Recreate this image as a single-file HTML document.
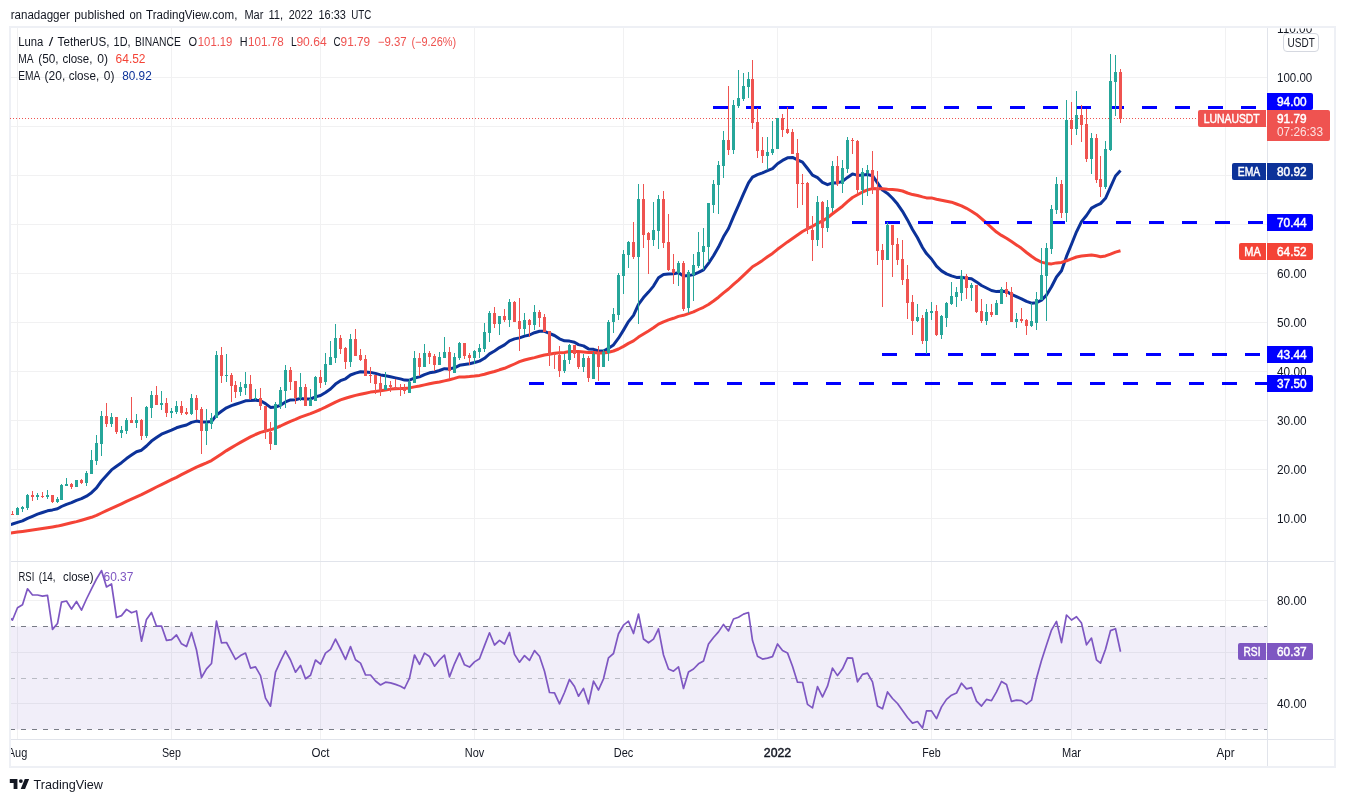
<!DOCTYPE html>
<html lang="en"><head><meta charset="utf-8"><title>LUNAUSDT chart</title>
<style>html,body{margin:0;padding:0;background:#fff;}body{width:1345px;height:802px;overflow:hidden;font-family:"Liberation Sans", Arial, sans-serif;}svg{display:block}</style>
</head><body>
<svg width="1345" height="802" viewBox="0 0 1345 802" font-family='"Liberation Sans", Arial, sans-serif'><rect x="0" y="0" width="1345" height="802" fill="#fff"/>
<rect x="10" y="27" width="1325" height="740" fill="#fff" stroke="#eef0f5" stroke-width="2"/>
<rect x="11" y="626.5" width="1256" height="103" fill="#f1eef9"/>
<path d="M11 77.5H1267M11 126.5H1267M11 175.5H1267M11 224.5H1267M11 273.5H1267M11 322.5H1267M11 371.5H1267M11 420.5H1267M11 469.5H1267M11 518.5H1267M11 600.5H1267M11 652.5H1267M11 703.5H1267M17.5 28V739M171.5 28V739M320.5 28V739M474.5 28V739M623.5 28V739M777.5 28V739M931.5 28V739M1071.5 28V739M1225.5 28V739" stroke="#2a2e39" stroke-opacity="0.065" stroke-width="1" fill="none" shape-rendering="crispEdges"/>
<path d="M1267.5 28V766M11 561.5H1334M11 739.5H1334" stroke="#e1e4eb" stroke-width="1" fill="none" shape-rendering="crispEdges"/>
<path d="M11 626.5H1267M11 729.5H1267" stroke="#787b86" stroke-width="1" stroke-dasharray="5 6" stroke-dashoffset="1" fill="none" shape-rendering="crispEdges"/>
<path d="M11 678.5H1267" stroke="#b9bbc4" stroke-width="1" stroke-dasharray="5 6" stroke-dashoffset="1" fill="none" shape-rendering="crispEdges"/>
<path d="M10 118.5H1198" stroke="#ef5350" stroke-width="1" stroke-dasharray="1 2" fill="none" shape-rendering="crispEdges"/>
<defs><clipPath id="cm"><rect x="11" y="28" width="1256" height="533"/></clipPath><clipPath id="cr"><rect x="11" y="562" width="1256" height="177"/></clipPath></defs>
<path d="M10.5 524.6L12.5 524.0L17.5 522.4L22.5 520.9L27.5 518.4L32.5 516.3L37.5 514.2L42.5 512.5L47.5 510.8L52.5 509.9L57.5 508.8L61.5 506.5L66.5 504.3L71.5 502.6L76.5 500.4L81.5 498.7L86.5 496.2L91.5 492.7L96.5 487.9L101.5 481.0L106.5 475.5L111.5 469.9L116.5 466.2L121.5 462.7L126.5 458.6L131.5 455.1L136.5 451.7L141.5 450.2L146.5 446.0L151.5 441.1L156.5 437.6L161.5 434.2L166.5 432.1L171.5 430.1L176.5 427.8L181.5 426.3L186.5 425.0L191.5 422.4L196.5 421.1L201.5 422.0L206.5 422.0L211.5 421.5L216.5 415.1L221.5 411.3L226.5 407.8L231.5 405.6L235.5 404.3L240.5 402.6L245.5 400.8L250.5 400.6L255.5 400.2L260.5 400.8L265.5 403.6L270.5 407.4L275.5 407.0L280.5 405.3L285.5 401.9L290.5 399.9L295.5 399.7L300.5 398.4L305.5 399.1L310.5 399.0L315.5 396.9L320.5 395.5L325.5 392.5L330.5 389.0L335.5 384.1L340.5 380.7L345.5 378.8L350.5 375.0L355.5 373.1L360.5 371.8L365.5 372.1L370.5 372.4L375.5 373.4L380.5 374.9L385.5 375.8L390.5 376.8L395.5 377.9L400.5 378.9L404.5 380.1L409.5 380.2L414.5 378.0L419.5 376.9L424.5 374.6L429.5 372.8L434.5 372.0L439.5 370.5L444.5 368.7L449.5 368.9L454.5 367.8L459.5 365.3L464.5 364.4L469.5 363.7L474.5 362.5L479.5 361.1L484.5 358.3L489.5 353.9L494.5 351.0L499.5 347.6L504.5 344.9L509.5 340.8L514.5 338.9L519.5 337.9L524.5 336.1L529.5 335.0L534.5 332.7L539.5 331.2L544.5 331.3L549.5 333.5L554.5 335.5L559.5 338.8L564.5 340.8L569.5 341.1L574.5 342.3L578.5 344.6L583.5 345.9L588.5 348.9L593.5 349.3L598.5 351.0L603.5 351.0L608.5 348.2L613.5 344.9L618.5 338.2L623.5 330.1L628.5 321.6L633.5 315.4L638.5 304.3L643.5 297.6L648.5 292.1L653.5 286.1L658.5 277.7L663.5 274.4L668.5 273.9L673.5 273.8L678.5 272.7L683.5 276.1L688.5 275.6L693.5 274.6L698.5 272.3L703.5 269.8L708.5 263.4L713.5 255.8L718.5 247.1L723.5 236.8L728.5 228.5L733.5 216.7L738.5 205.3L743.5 193.9L748.5 182.9L752.5 177.1L757.5 174.6L762.5 172.8L767.5 170.7L772.5 168.6L777.5 163.7L782.5 160.4L787.5 157.8L792.5 157.4L797.5 159.8L802.5 162.1L807.5 168.5L812.5 175.2L817.5 177.7L822.5 182.4L827.5 184.7L832.5 182.8L837.5 182.9L842.5 181.4L847.5 177.4L852.5 173.9L857.5 175.4L862.5 175.0L867.5 174.5L872.5 175.7L877.5 182.8L882.5 190.1L887.5 193.4L892.5 198.3L897.5 204.1L902.5 211.3L907.5 219.9L912.5 229.5L917.5 237.8L922.5 247.5L926.5 253.6L931.5 259.0L936.5 266.2L941.5 270.9L946.5 273.9L951.5 275.9L956.5 277.4L961.5 277.2L966.5 278.2L971.5 278.8L976.5 281.9L981.5 285.5L986.5 288.0L991.5 290.5L996.5 291.6L1001.5 291.3L1006.5 291.5L1011.5 294.4L1016.5 296.7L1021.5 298.9L1026.5 301.4L1031.5 303.2L1036.5 302.8L1041.5 300.1L1046.5 295.1L1051.5 286.8L1056.5 277.0L1061.5 270.8L1066.5 256.4L1071.5 244.2L1076.5 231.8L1081.5 221.6L1086.5 215.5L1091.5 208.1L1096.5 205.4L1100.5 203.6L1105.5 198.3L1110.5 187.1L1115.5 176.0L1120.5 170.5" stroke="#0c3299" stroke-width="3" fill="none" stroke-linejoin="round" clip-path="url(#cm)"/>
<path d="M10.5 533.1L12.5 532.8L17.5 532.1L22.5 531.4L27.5 530.8L32.5 530.1L37.5 529.3L42.5 528.5L47.5 527.7L52.5 526.9L57.5 526.1L61.5 525.2L66.5 524.0L71.5 522.8L76.5 521.6L81.5 520.2L86.5 518.8L91.5 517.3L96.5 515.3L101.5 513.0L106.5 510.7L111.5 508.4L116.5 506.1L121.5 503.8L126.5 501.4L131.5 499.2L136.5 496.9L141.5 494.7L146.5 492.2L151.5 489.6L156.5 487.0L161.5 484.6L166.5 482.1L171.5 479.7L176.5 477.3L181.5 474.7L186.5 472.1L191.5 469.6L196.5 467.1L201.5 465.0L206.5 462.9L211.5 460.6L216.5 457.2L221.5 453.9L226.5 450.6L231.5 447.6L235.5 445.2L240.5 442.4L245.5 439.6L250.5 436.9L255.5 434.5L260.5 432.4L265.5 431.0L270.5 429.8L275.5 428.1L280.5 426.0L285.5 423.6L290.5 421.3L295.5 419.4L300.5 417.2L305.5 415.4L310.5 413.7L315.5 411.6L320.5 409.5L325.5 407.2L330.5 404.7L335.5 402.1L340.5 399.9L345.5 398.3L350.5 396.8L355.5 395.4L360.5 394.3L365.5 393.2L370.5 392.1L375.5 391.4L380.5 390.7L385.5 390.1L390.5 389.1L395.5 388.7L400.5 388.6L404.5 388.4L409.5 387.9L414.5 386.9L419.5 386.0L424.5 384.9L429.5 383.8L434.5 382.8L439.5 382.0L444.5 380.9L449.5 379.7L454.5 378.4L459.5 376.9L464.5 376.9L469.5 376.6L474.5 376.1L479.5 375.4L484.5 374.2L489.5 372.7L494.5 371.5L499.5 369.8L504.5 368.3L509.5 366.2L514.5 364.0L519.5 361.7L524.5 360.0L529.5 358.7L534.5 357.6L539.5 356.3L544.5 355.0L549.5 354.3L554.5 353.3L559.5 352.7L564.5 352.4L569.5 351.6L574.5 351.4L578.5 351.6L583.5 352.1L588.5 352.6L593.5 352.5L598.5 353.0L603.5 353.0L608.5 352.2L613.5 351.0L618.5 349.0L623.5 346.4L628.5 343.4L633.5 340.9L638.5 337.1L643.5 334.0L648.5 331.0L653.5 327.8L658.5 324.1L663.5 321.8L668.5 319.9L673.5 318.3L678.5 316.4L683.5 315.3L688.5 313.6L693.5 311.9L698.5 309.5L703.5 307.3L708.5 304.5L713.5 301.0L718.5 297.2L723.5 292.9L728.5 289.0L733.5 284.4L738.5 280.1L743.5 275.4L748.5 270.6L752.5 266.7L757.5 263.7L762.5 260.4L767.5 256.8L772.5 253.4L777.5 249.3L782.5 245.6L787.5 241.9L792.5 238.4L797.5 234.9L802.5 231.5L807.5 228.7L812.5 226.3L817.5 223.4L822.5 220.9L827.5 217.7L832.5 213.8L837.5 210.0L842.5 206.2L847.5 201.7L852.5 197.5L857.5 194.8L862.5 192.0L867.5 189.9L872.5 188.6L877.5 188.8L882.5 188.8L887.5 189.3L892.5 189.6L897.5 190.0L902.5 191.0L907.5 193.0L912.5 194.6L917.5 195.5L922.5 196.9L926.5 197.9L931.5 197.9L936.5 199.2L941.5 200.2L946.5 201.2L951.5 202.2L956.5 204.0L961.5 205.8L966.5 208.3L971.5 211.2L976.5 214.4L981.5 218.7L986.5 223.0L991.5 227.6L996.5 232.1L1001.5 235.4L1006.5 238.3L1011.5 241.6L1016.5 244.9L1021.5 248.3L1026.5 252.5L1031.5 256.3L1036.5 259.7L1041.5 262.1L1046.5 263.4L1051.5 263.9L1056.5 262.9L1061.5 262.4L1066.5 260.8L1071.5 258.8L1076.5 257.0L1081.5 256.1L1086.5 255.6L1091.5 255.0L1096.5 255.8L1100.5 256.7L1105.5 255.9L1110.5 254.1L1115.5 252.1L1120.5 250.7" stroke="#f44336" stroke-width="3" fill="none" stroke-linejoin="round" stroke-linecap="butt" clip-path="url(#cm)"/>
<path d="M713 106.0h15v3h-15zM746 106.0h15v3h-15zM779 106.0h15v3h-15zM812 106.0h15v3h-15zM845 106.0h15v3h-15zM878 106.0h15v3h-15zM911 106.0h15v3h-15zM944 106.0h15v3h-15zM977 106.0h15v3h-15zM1010 106.0h15v3h-15zM1043 106.0h15v3h-15zM1076 106.0h15v3h-15zM1109 106.0h15v3h-15zM1142 106.0h15v3h-15zM1175 106.0h15v3h-15zM1208 106.0h15v3h-15zM1241 106.0h15v3h-15z" fill="#0000ff" shape-rendering="crispEdges"/>
<path d="M852 221.0h15v3h-15zM885 221.0h15v3h-15zM918 221.0h15v3h-15zM951 221.0h15v3h-15zM984 221.0h15v3h-15zM1017 221.0h15v3h-15zM1050 221.0h15v3h-15zM1083 221.0h15v3h-15zM1116 221.0h15v3h-15zM1149 221.0h15v3h-15zM1182 221.0h15v3h-15zM1215 221.0h15v3h-15zM1248 221.0h15v3h-15z" fill="#0000ff" shape-rendering="crispEdges"/>
<path d="M882 353.0h15v3h-15zM915 353.0h15v3h-15zM948 353.0h15v3h-15zM981 353.0h15v3h-15zM1014 353.0h15v3h-15zM1047 353.0h15v3h-15zM1080 353.0h15v3h-15zM1113 353.0h15v3h-15zM1146 353.0h15v3h-15zM1179 353.0h15v3h-15zM1212 353.0h15v3h-15zM1245 353.0h15v3h-15z" fill="#0000ff" shape-rendering="crispEdges"/>
<path d="M529 382.0h15v3h-15zM562 382.0h15v3h-15zM595 382.0h15v3h-15zM628 382.0h15v3h-15zM661 382.0h15v3h-15zM694 382.0h15v3h-15zM727 382.0h15v3h-15zM760 382.0h15v3h-15zM793 382.0h15v3h-15zM826 382.0h15v3h-15zM859 382.0h15v3h-15zM892 382.0h15v3h-15zM925 382.0h15v3h-15zM958 382.0h15v3h-15zM991 382.0h15v3h-15zM1024 382.0h15v3h-15zM1057 382.0h15v3h-15zM1090 382.0h15v3h-15zM1123 382.0h15v3h-15zM1156 382.0h15v3h-15zM1189 382.0h15v3h-15zM1222 382.0h15v3h-15zM1255 382.0h12v3h-12z" fill="#0000ff" shape-rendering="crispEdges"/>
<path d="M17 507h1v8h-1zM22 506h1v6h-1zM27 494h1v16h-1zM37 493h1v7h-1zM47 490h1v9h-1zM57 497h1v6h-1zM61 484h1v16h-1zM66 478h1v8h-1zM76 480h1v7h-1zM86 471h1v15h-1zM91 450h1v24h-1zM96 435h1v30h-1zM101 411h1v45h-1zM111 413h1v14h-1zM121 426h1v12h-1zM126 418h1v16h-1zM136 414h1v14h-1zM146 406h1v32h-1zM151 391h1v27h-1zM161 391h1v19h-1zM171 408h1v10h-1zM176 401h1v13h-1zM191 394h1v21h-1zM206 409h1v36h-1zM211 413h1v16h-1zM216 351h1v67h-1zM226 354h1v28h-1zM240 382h1v14h-1zM245 372h1v23h-1zM255 389h1v11h-1zM275 402h1v43h-1zM280 387h1v22h-1zM285 365h1v43h-1zM300 373h1v28h-1zM310 389h1v17h-1zM315 376h1v25h-1zM325 353h1v32h-1zM330 341h1v24h-1zM335 324h1v39h-1zM350 334h1v33h-1zM385 372h1v18h-1zM409 379h1v14h-1zM414 351h1v32h-1zM424 344h1v23h-1zM439 352h1v13h-1zM444 337h1v21h-1zM454 353h1v20h-1zM459 342h1v18h-1zM474 350h1v14h-1zM479 344h1v14h-1zM484 323h1v29h-1zM489 311h1v31h-1zM499 316h1v19h-1zM509 299h1v28h-1zM524 313h1v22h-1zM534 305h1v25h-1zM564 354h1v19h-1zM569 344h1v20h-1zM583 354h1v18h-1zM593 352h1v27h-1zM603 349h1v18h-1zM608 320h1v41h-1zM613 308h1v25h-1zM618 273h1v47h-1zM623 250h1v44h-1zM628 241h1v27h-1zM638 184h1v140h-1zM653 202h1v44h-1zM658 195h1v54h-1zM678 261h1v25h-1zM688 270h1v43h-1zM693 254h1v47h-1zM698 232h1v36h-1zM703 228h1v42h-1zM708 203h1v59h-1zM713 180h1v33h-1zM718 161h1v53h-1zM723 131h1v47h-1zM733 100h1v54h-1zM738 70h1v38h-1zM743 73h1v28h-1zM748 72h1v26h-1zM767 137h1v33h-1zM772 121h1v34h-1zM777 118h1v31h-1zM817 196h1v50h-1zM827 200h1v32h-1zM832 161h1v51h-1zM842 160h1v33h-1zM847 137h1v36h-1zM862 168h1v37h-1zM867 165h1v31h-1zM887 222h1v38h-1zM917 304h1v18h-1zM926 309h1v45h-1zM931 302h1v18h-1zM941 315h1v24h-1zM946 302h1v25h-1zM951 282h1v23h-1zM956 287h1v20h-1zM961 270h1v31h-1zM971 283h1v18h-1zM986 304h1v21h-1zM996 300h1v15h-1zM1001 287h1v17h-1zM1016 313h1v15h-1zM1031 303h1v24h-1zM1036 292h1v38h-1zM1041 248h1v52h-1zM1046 243h1v78h-1zM1051 205h1v49h-1zM1056 177h1v37h-1zM1066 100h1v122h-1zM1076 91h1v44h-1zM1091 133h1v41h-1zM1105 141h1v48h-1zM1110 54h1v97h-1zM1115 55h1v61h-1zM16 508h3v7h-3zM21 507h3v2h-3zM26 495h3v13h-3zM36 495h3v2h-3zM46 495h3v2h-3zM56 499h3v3h-3zM60 485h3v15h-3zM65 484h3v2h-3zM75 480h3v7h-3zM85 473h3v10h-3zM90 460h3v14h-3zM95 443h3v18h-3zM100 416h3v28h-3zM110 417h3v7h-3zM120 430h3v3h-3zM125 420h3v11h-3zM135 420h3v3h-3zM145 407h3v29h-3zM150 395h3v13h-3zM160 403h3v2h-3zM170 411h3v2h-3zM175 406h3v6h-3zM190 398h3v16h-3zM205 423h3v8h-3zM210 418h3v6h-3zM215 355h3v63h-3zM225 375h3v1h-3zM239 387h3v5h-3zM244 384h3v4h-3zM254 398h3v1h-3zM274 404h3v41h-3zM279 390h3v16h-3zM284 370h3v21h-3zM299 387h3v11h-3zM309 399h3v7h-3zM314 377h3v24h-3zM324 364h3v18h-3zM329 357h3v8h-3zM334 338h3v20h-3zM349 339h3v23h-3zM384 385h3v5h-3zM408 382h3v11h-3zM413 358h3v25h-3zM423 353h3v14h-3zM438 357h3v8h-3zM443 352h3v6h-3zM453 357h3v16h-3zM458 343h3v15h-3zM473 351h3v7h-3zM478 348h3v4h-3zM483 332h3v17h-3zM488 313h3v20h-3zM498 316h3v8h-3zM508 302h3v18h-3zM523 320h3v9h-3zM533 312h3v13h-3zM563 360h3v11h-3zM568 345h3v15h-3zM582 358h3v9h-3zM592 354h3v25h-3zM602 352h3v15h-3zM607 322h3v31h-3zM612 314h3v8h-3zM617 275h3v40h-3zM622 254h3v22h-3zM627 242h3v13h-3zM637 199h3v58h-3zM652 230h3v10h-3zM657 199h3v32h-3zM677 263h3v10h-3zM687 272h3v36h-3zM692 265h3v10h-3zM697 252h3v14h-3zM702 246h3v6h-3zM707 203h3v44h-3zM712 184h3v21h-3zM717 165h3v20h-3zM722 140h3v26h-3zM732 105h3v45h-3zM737 98h3v8h-3zM742 86h3v13h-3zM747 79h3v8h-3zM766 152h3v4h-3zM771 149h3v4h-3zM776 118h3v31h-3zM816 202h3v38h-3zM826 207h3v21h-3zM831 166h3v42h-3zM841 168h3v16h-3zM846 140h3v29h-3zM861 172h3v18h-3zM866 170h3v3h-3zM886 225h3v35h-3zM916 317h3v4h-3zM925 312h3v29h-3zM930 311h3v2h-3zM940 316h3v19h-3zM945 303h3v15h-3zM950 296h3v8h-3zM955 292h3v5h-3zM960 276h3v17h-3zM970 285h3v3h-3zM985 312h3v9h-3zM995 303h3v12h-3zM1000 289h3v15h-3zM1015 319h3v3h-3zM1030 321h3v5h-3zM1035 299h3v24h-3zM1040 275h3v25h-3zM1045 248h3v28h-3zM1050 209h3v40h-3zM1055 184h3v26h-3zM1065 120h3v93h-3zM1075 115h3v14h-3zM1090 138h3v21h-3zM1104 149h3v38h-3zM1109 81h3v69h-3zM1114 72h3v10h-3z" fill="#26a69a" shape-rendering="crispEdges"/>
<path d="M12 511h1v4h-1zM32 491h1v10h-1zM42 492h1v6h-1zM52 495h1v8h-1zM71 483h1v6h-1zM81 479h1v5h-1zM106 403h1v24h-1zM116 417h1v17h-1zM131 397h1v26h-1zM141 419h1v21h-1zM156 386h1v19h-1zM166 398h1v19h-1zM181 401h1v14h-1zM186 408h1v7h-1zM196 395h1v25h-1zM201 407h1v47h-1zM221 347h1v36h-1zM231 373h1v29h-1zM235 381h1v17h-1zM250 375h1v25h-1zM260 388h1v22h-1zM265 406h1v33h-1zM270 422h1v28h-1zM290 367h1v23h-1zM295 381h1v23h-1zM305 384h1v22h-1zM320 370h1v18h-1zM340 335h1v19h-1zM345 347h1v22h-1zM355 329h1v27h-1zM360 349h1v12h-1zM365 355h1v21h-1zM370 367h1v16h-1zM375 375h1v19h-1zM380 376h1v20h-1zM390 381h1v11h-1zM395 379h1v10h-1zM400 384h1v12h-1zM404 384h1v10h-1zM419 353h1v23h-1zM429 351h1v13h-1zM434 354h1v17h-1zM449 347h1v32h-1zM464 343h1v16h-1zM469 353h1v12h-1zM494 307h1v21h-1zM504 309h1v13h-1zM514 301h1v21h-1zM519 298h1v53h-1zM529 319h1v18h-1zM539 310h1v17h-1zM544 314h1v18h-1zM549 331h1v35h-1zM554 353h1v16h-1zM559 346h1v31h-1zM574 345h1v13h-1zM578 353h1v16h-1zM588 356h1v26h-1zM598 346h1v35h-1zM633 222h1v37h-1zM643 184h1v64h-1zM648 232h1v42h-1zM663 191h1v57h-1zM668 214h1v57h-1zM673 254h1v30h-1zM683 261h1v50h-1zM728 86h1v69h-1zM752 60h1v69h-1zM757 108h1v50h-1zM762 137h1v26h-1zM782 114h1v23h-1zM787 107h1v27h-1zM792 129h1v25h-1zM797 139h1v69h-1zM802 174h1v31h-1zM807 182h1v52h-1zM812 216h1v45h-1zM822 201h1v47h-1zM837 156h1v30h-1zM852 138h1v16h-1zM857 140h1v53h-1zM872 151h1v43h-1zM877 171h1v94h-1zM882 244h1v63h-1zM892 225h1v52h-1zM897 238h1v27h-1zM902 240h1v45h-1zM907 265h1v54h-1zM912 295h1v40h-1zM922 315h1v29h-1zM936 305h1v31h-1zM966 274h1v25h-1zM976 285h1v28h-1zM981 299h1v24h-1zM991 304h1v13h-1zM1006 282h1v15h-1zM1011 287h1v35h-1zM1021 308h1v15h-1zM1026 319h1v16h-1zM1061 180h1v38h-1zM1071 102h1v43h-1zM1081 105h1v37h-1zM1086 109h1v53h-1zM1096 134h1v49h-1zM1100 156h1v41h-1zM1120 69h1v54h-1zM11 514h3v1h-3zM31 495h3v2h-3zM41 496h3v1h-3zM51 495h3v7h-3zM70 484h3v3h-3zM80 480h3v3h-3zM105 416h3v8h-3zM115 417h3v15h-3zM130 420h3v3h-3zM140 420h3v16h-3zM155 395h3v10h-3zM165 403h3v10h-3zM180 406h3v7h-3zM185 412h3v2h-3zM195 398h3v12h-3zM200 409h3v22h-3zM220 355h3v21h-3zM230 375h3v11h-3zM234 385h3v7h-3zM249 384h3v15h-3zM259 398h3v8h-3zM264 406h3v26h-3zM269 432h3v12h-3zM289 370h3v12h-3zM294 381h3v17h-3zM304 387h3v19h-3zM319 377h3v6h-3zM339 338h3v11h-3zM344 348h3v14h-3zM354 339h3v17h-3zM359 355h3v5h-3zM364 359h3v17h-3zM369 375h3v1h-3zM374 375h3v9h-3zM379 383h3v7h-3zM389 385h3v2h-3zM394 387h3v2h-3zM399 388h3v1h-3zM403 388h3v3h-3zM418 358h3v9h-3zM428 353h3v4h-3zM433 356h3v9h-3zM448 352h3v19h-3zM463 343h3v13h-3zM468 355h3v3h-3zM493 313h3v11h-3zM503 316h3v4h-3zM513 302h3v20h-3zM518 321h3v8h-3zM528 320h3v5h-3zM538 312h3v6h-3zM543 317h3v15h-3zM548 331h3v24h-3zM553 354h3v1h-3zM558 355h3v16h-3zM573 345h3v9h-3zM577 353h3v14h-3zM587 358h3v20h-3zM597 352h3v15h-3zM632 242h3v15h-3zM642 199h3v36h-3zM647 233h3v7h-3zM662 199h3v44h-3zM667 242h3v28h-3zM672 269h3v4h-3zM682 263h3v46h-3zM727 140h3v10h-3zM751 79h3v44h-3zM756 122h3v29h-3zM761 150h3v6h-3zM781 118h3v12h-3zM786 129h3v4h-3zM791 132h3v22h-3zM796 153h3v31h-3zM801 183h3v1h-3zM806 183h3v47h-3zM811 230h3v10h-3zM821 202h3v26h-3zM836 166h3v18h-3zM851 140h3v1h-3zM856 141h3v49h-3zM871 170h3v18h-3zM876 188h3v63h-3zM881 250h3v10h-3zM891 225h3v20h-3zM896 244h3v16h-3zM901 259h3v21h-3zM906 279h3v24h-3zM911 302h3v19h-3zM921 318h3v23h-3zM935 311h3v24h-3zM965 276h3v12h-3zM975 285h3v27h-3zM980 311h3v10h-3zM990 312h3v3h-3zM1005 289h3v5h-3zM1010 292h3v30h-3zM1020 319h3v2h-3zM1025 320h3v6h-3zM1060 184h3v29h-3zM1070 120h3v9h-3zM1080 115h3v10h-3zM1085 124h3v35h-3zM1095 138h3v42h-3zM1099 179h3v8h-3zM1119 72h3v47h-3z" fill="#ef5350" shape-rendering="crispEdges"/>
<path d="M7.5 616.0L12.5 620.0L17.5 607.8L22.5 604.8L27.5 588.8L32.5 595.0L37.5 595.0L42.5 596.2L47.5 595.4L52.5 629.4L57.5 623.5L61.5 602.1L66.5 601.0L71.5 609.0L76.5 601.5L81.5 610.2L86.5 599.0L91.5 588.8L96.5 579.0L101.5 570.6L106.5 586.9L111.5 584.0L116.5 617.5L121.5 615.6L126.5 609.4L131.5 612.8L136.5 611.0L141.5 641.2L146.5 619.4L151.5 612.5L156.5 626.2L161.5 626.0L166.5 640.4L171.5 639.6L176.5 635.0L181.5 643.8L186.5 646.6L191.5 632.5L196.5 650.0L201.5 677.5L206.5 668.8L211.5 663.5L216.5 621.2L221.5 642.8L226.5 642.5L231.5 651.9L235.5 659.4L240.5 655.6L245.5 653.1L250.5 668.1L255.5 666.9L260.5 675.6L265.5 698.1L270.5 706.2L275.5 672.1L280.5 661.2L285.5 651.0L290.5 660.0L295.5 672.2L300.5 665.4L305.5 678.8L310.5 675.2L315.5 660.0L320.5 664.1L325.5 653.1L330.5 649.4L335.5 639.1L340.5 649.0L345.5 659.4L350.5 646.6L355.5 659.8L360.5 663.1L365.5 674.8L370.5 675.0L375.5 681.0L380.5 685.0L385.5 682.2L390.5 682.9L395.5 684.4L400.5 686.2L404.5 688.5L409.5 678.1L414.5 655.0L419.5 664.4L424.5 653.1L429.5 656.5L434.5 666.2L439.5 660.0L444.5 655.2L449.5 676.9L454.5 663.8L459.5 652.9L464.5 664.8L469.5 667.1L474.5 661.9L479.5 658.8L484.5 645.6L489.5 632.8L494.5 645.0L499.5 640.4L504.5 644.0L509.5 632.5L514.5 654.4L519.5 662.2L524.5 655.6L529.5 660.4L534.5 650.6L539.5 656.2L544.5 671.2L549.5 692.5L554.5 692.8L559.5 703.8L564.5 692.5L569.5 679.4L574.5 686.5L578.5 696.2L583.5 688.4L588.5 703.8L593.5 681.2L598.5 690.0L603.5 678.8L608.5 657.8L613.5 653.5L618.5 633.8L623.5 625.2L628.5 621.2L633.5 633.5L638.5 614.0L643.5 639.0L648.5 642.8L653.5 639.1L658.5 628.8L663.5 655.0L668.5 669.0L673.5 671.2L678.5 666.9L683.5 688.5L688.5 671.9L693.5 669.0L698.5 663.8L703.5 660.9L708.5 644.1L713.5 637.5L718.5 631.9L723.5 624.4L728.5 630.9L733.5 619.0L738.5 617.2L743.5 614.1L748.5 612.5L752.5 640.6L757.5 656.2L762.5 659.1L767.5 658.1L772.5 656.6L777.5 644.0L782.5 650.6L787.5 652.9L792.5 666.2L797.5 682.2L802.5 682.5L807.5 704.4L812.5 707.9L817.5 686.6L822.5 696.9L827.5 686.2L832.5 668.1L837.5 675.6L842.5 668.8L847.5 657.8L852.5 658.1L857.5 681.9L862.5 674.4L867.5 673.1L872.5 681.9L877.5 706.0L882.5 708.8L887.5 691.9L892.5 698.5L897.5 703.5L902.5 710.6L907.5 717.5L912.5 723.1L917.5 721.5L922.5 728.1L926.5 710.9L931.5 710.9L936.5 718.6L941.5 706.9L946.5 699.4L951.5 695.2L956.5 693.0L961.5 683.2L966.5 688.9L971.5 687.7L976.5 701.1L981.5 706.1L986.5 699.4L991.5 700.7L996.5 691.9L1001.5 681.5L1006.5 684.4L1011.5 701.4L1016.5 700.2L1021.5 700.6L1026.5 704.1L1031.5 700.2L1036.5 678.2L1041.5 660.5L1046.5 645.1L1051.5 630.1L1056.5 621.4L1061.5 642.6L1066.5 615.0L1071.5 620.0L1076.5 616.7L1081.5 623.1L1086.5 644.8L1091.5 638.1L1096.5 659.8L1100.5 663.1L1105.5 649.3L1110.5 630.6L1115.5 628.7L1120.5 651.8" stroke="#7e57c2" stroke-width="1.7" fill="none" stroke-linejoin="round" clip-path="url(#cr)"/>
<g clip-path="url(#cax)"><text x="1277" y="32.9" font-size="12" fill="#131722" textLength="35.2" lengthAdjust="spacingAndGlyphs">110.00</text></g>
<text x="1277" y="81.9" font-size="12" fill="#131722" textLength="35.2" lengthAdjust="spacingAndGlyphs">100.00</text>
<text x="1277" y="130.9" font-size="12" fill="#131722" textLength="29.6" lengthAdjust="spacingAndGlyphs">90.00</text>
<text x="1277" y="179.9" font-size="12" fill="#131722" textLength="29.6" lengthAdjust="spacingAndGlyphs">80.00</text>
<text x="1277" y="228.9" font-size="12" fill="#131722" textLength="29.6" lengthAdjust="spacingAndGlyphs">70.00</text>
<text x="1277" y="277.9" font-size="12" fill="#131722" textLength="29.6" lengthAdjust="spacingAndGlyphs">60.00</text>
<text x="1277" y="326.9" font-size="12" fill="#131722" textLength="29.6" lengthAdjust="spacingAndGlyphs">50.00</text>
<text x="1277" y="375.9" font-size="12" fill="#131722" textLength="29.6" lengthAdjust="spacingAndGlyphs">40.00</text>
<text x="1277" y="424.9" font-size="12" fill="#131722" textLength="29.6" lengthAdjust="spacingAndGlyphs">30.00</text>
<text x="1277" y="473.9" font-size="12" fill="#131722" textLength="29.6" lengthAdjust="spacingAndGlyphs">20.00</text>
<text x="1277" y="522.9" font-size="12" fill="#131722" textLength="29.6" lengthAdjust="spacingAndGlyphs">10.00</text>
<defs><clipPath id="cax"><rect x="1268" y="28.5" width="66" height="20"/></clipPath></defs>
<text x="1277" y="604.9" font-size="12" fill="#131722" textLength="29.6" lengthAdjust="spacingAndGlyphs">80.00</text>
<text x="1277" y="707.9" font-size="12" fill="#131722" textLength="29.6" lengthAdjust="spacingAndGlyphs">40.00</text>
<rect x="1283.5" y="33.5" width="35" height="18" rx="3.5" fill="#fff" stroke="#d5d8e0" stroke-width="1"/>
<text x="1287.6" y="46.7" font-size="12" fill="#131722" textLength="27.2" lengthAdjust="spacingAndGlyphs">USDT</text>
<path d="M1267 93h44a2 2 0 0 1 2 2v13a2 2 0 0 1 -2 2h-44z" fill="#0000ff"/>
<text x="1277" y="105.8" font-size="12" fill="#fff" stroke="#fff" stroke-width="0.45" textLength="29.6" lengthAdjust="spacingAndGlyphs">94.00</text>
<path d="M1267 214h44a2 2 0 0 1 2 2v13a2 2 0 0 1 -2 2h-44z" fill="#0000ff"/>
<text x="1277" y="226.8" font-size="12" fill="#fff" stroke="#fff" stroke-width="0.45" textLength="29.6" lengthAdjust="spacingAndGlyphs">70.44</text>
<path d="M1267 346h44a2 2 0 0 1 2 2v13a2 2 0 0 1 -2 2h-44z" fill="#0000ff"/>
<text x="1277" y="358.8" font-size="12" fill="#fff" stroke="#fff" stroke-width="0.45" textLength="29.6" lengthAdjust="spacingAndGlyphs">43.44</text>
<path d="M1267 375h44a2 2 0 0 1 2 2v13a2 2 0 0 1 -2 2h-44z" fill="#0000ff"/>
<text x="1277" y="387.8" font-size="12" fill="#fff" stroke="#fff" stroke-width="0.45" textLength="29.6" lengthAdjust="spacingAndGlyphs">37.50</text>
<path d="M1267 163h44a2 2 0 0 1 2 2v13a2 2 0 0 1 -2 2h-44z" fill="#0c3299"/>
<text x="1277" y="175.8" font-size="12" fill="#fff" stroke="#fff" stroke-width="0.45" textLength="29.6" lengthAdjust="spacingAndGlyphs">80.92</text>
<path d="M1234 163h32v17h-32a2 2 0 0 1 -2 -2v-13a2 2 0 0 1 2 -2z" fill="#0c3299"/>
<text x="1249.0" y="175.8" font-size="12" fill="#fff" stroke="#fff" stroke-width="0.45" text-anchor="middle" textLength="22.4" lengthAdjust="spacingAndGlyphs">EMA</text>
<path d="M1267 243h44a2 2 0 0 1 2 2v13a2 2 0 0 1 -2 2h-44z" fill="#f44336"/>
<text x="1277" y="255.8" font-size="12" fill="#fff" stroke="#fff" stroke-width="0.45" textLength="29.6" lengthAdjust="spacingAndGlyphs">64.52</text>
<path d="M1241 243h25v17h-25a2 2 0 0 1 -2 -2v-13a2 2 0 0 1 2 -2z" fill="#f44336"/>
<text x="1252.5" y="255.8" font-size="12" fill="#fff" stroke="#fff" stroke-width="0.45" text-anchor="middle" textLength="16.5" lengthAdjust="spacingAndGlyphs">MA</text>
<path d="M1267 643h44a2 2 0 0 1 2 2v13a2 2 0 0 1 -2 2h-44z" fill="#7e57c2"/>
<text x="1277" y="655.8" font-size="12" fill="#fff" stroke="#fff" stroke-width="0.45" textLength="29.6" lengthAdjust="spacingAndGlyphs">60.37</text>
<path d="M1240 643h26v17h-26a2 2 0 0 1 -2 -2v-13a2 2 0 0 1 2 -2z" fill="#7e57c2"/>
<text x="1252.0" y="655.8" font-size="12" fill="#fff" stroke="#fff" stroke-width="0.45" text-anchor="middle" textLength="17" lengthAdjust="spacingAndGlyphs">RSI</text>
<path d="M1200 110h66v17h-66a2 2 0 0 1 -2 -2v-13a2 2 0 0 1 2 -2z" fill="#ef5350"/>
<text x="1203.7" y="122.8" font-size="12" fill="#fff" stroke="#fff" stroke-width="0.45" textLength="56" lengthAdjust="spacingAndGlyphs">LUNAUSDT</text>
<path d="M1267 110h61a2 2 0 0 1 2 2v27a2 2 0 0 1 -2 2h-61z" fill="#ef5350"/>
<text x="1277" y="122.8" font-size="12" fill="#fff" stroke="#fff" stroke-width="0.45" textLength="29.6" lengthAdjust="spacingAndGlyphs">91.79</text>
<text x="1277" y="136.3" font-size="12" fill="#fce1e0" textLength="46" lengthAdjust="spacingAndGlyphs">07:26:33</text>
<defs><clipPath id="ct"><rect x="11" y="740" width="1256" height="26"/></clipPath></defs>
<g clip-path="url(#ct)">
<text x="17.5" y="756.8" font-size="12" fill="#131722" text-anchor="middle" textLength="19.5" lengthAdjust="spacingAndGlyphs">Aug</text>
<text x="171.5" y="756.8" font-size="12" fill="#131722" text-anchor="middle" textLength="19" lengthAdjust="spacingAndGlyphs">Sep</text>
<text x="320.5" y="756.8" font-size="12" fill="#131722" text-anchor="middle" textLength="18" lengthAdjust="spacingAndGlyphs">Oct</text>
<text x="474.5" y="756.8" font-size="12" fill="#131722" text-anchor="middle" textLength="19.5" lengthAdjust="spacingAndGlyphs">Nov</text>
<text x="623.5" y="756.8" font-size="12" fill="#131722" text-anchor="middle" textLength="19.5" lengthAdjust="spacingAndGlyphs">Dec</text>
<text x="777.5" y="756.8" font-size="12" fill="#131722" stroke="#131722" stroke-width="0.45" text-anchor="middle" textLength="27.3" lengthAdjust="spacingAndGlyphs">2022</text>
<text x="931.5" y="756.8" font-size="12" fill="#131722" text-anchor="middle" textLength="18.4" lengthAdjust="spacingAndGlyphs">Feb</text>
<text x="1071.5" y="756.8" font-size="12" fill="#131722" text-anchor="middle" textLength="19" lengthAdjust="spacingAndGlyphs">Mar</text>
<text x="1225.5" y="756.8" font-size="12" fill="#131722" text-anchor="middle" textLength="18" lengthAdjust="spacingAndGlyphs">Apr</text>
</g>
<text x="10.7" y="19.1" font-size="12" fill="#131722" textLength="59.1" lengthAdjust="spacingAndGlyphs">ranadagger</text>
<text x="74.3" y="19.1" font-size="12" fill="#131722" textLength="50.6" lengthAdjust="spacingAndGlyphs">published</text>
<text x="129.4" y="19.1" font-size="12" fill="#131722" textLength="12.5" lengthAdjust="spacingAndGlyphs">on</text>
<text x="146" y="19.1" font-size="12" fill="#131722" textLength="91.4" lengthAdjust="spacingAndGlyphs">TradingView.com,</text>
<text x="244.4" y="19.1" font-size="12" fill="#131722" textLength="19.0" lengthAdjust="spacingAndGlyphs">Mar</text>
<text x="268.4" y="19.1" font-size="12" fill="#131722" textLength="14.8" lengthAdjust="spacingAndGlyphs">11,</text>
<text x="288.8" y="19.1" font-size="12" fill="#131722" textLength="24.0" lengthAdjust="spacingAndGlyphs">2022</text>
<text x="318.5" y="19.1" font-size="12" fill="#131722" textLength="27.4" lengthAdjust="spacingAndGlyphs">16:33</text>
<text x="351.2" y="19.1" font-size="12" fill="#131722" textLength="20.1" lengthAdjust="spacingAndGlyphs">UTC</text>
<text x="18.3" y="45.9" font-size="12" fill="#131722" textLength="25.1" lengthAdjust="spacingAndGlyphs">Luna</text>
<text x="48.7" y="45.9" font-size="12" fill="#131722" textLength="4.5" lengthAdjust="spacingAndGlyphs">/</text>
<text x="57.6" y="45.9" font-size="12" fill="#131722" textLength="51.8" lengthAdjust="spacingAndGlyphs">TetherUS,</text>
<text x="113.6" y="45.9" font-size="12" fill="#131722" textLength="16.9" lengthAdjust="spacingAndGlyphs">1D,</text>
<text x="135" y="45.9" font-size="12" fill="#131722" textLength="45.8" lengthAdjust="spacingAndGlyphs">BINANCE</text>
<text x="188.5" y="45.9" font-size="12" fill="#131722" textLength="8.6" lengthAdjust="spacingAndGlyphs">O</text>
<text x="239.8" y="45.9" font-size="12" fill="#131722" textLength="7.8" lengthAdjust="spacingAndGlyphs">H</text>
<text x="290.9" y="45.9" font-size="12" fill="#131722" textLength="5.7" lengthAdjust="spacingAndGlyphs">L</text>
<text x="333.5" y="45.9" font-size="12" fill="#131722" textLength="7.1" lengthAdjust="spacingAndGlyphs">C</text>
<text x="197.8" y="45.9" font-size="12" fill="#ef5350" textLength="34.6" lengthAdjust="spacingAndGlyphs">101.19</text>
<text x="248" y="45.9" font-size="12" fill="#ef5350" textLength="35.6" lengthAdjust="spacingAndGlyphs">101.78</text>
<text x="296.4" y="45.9" font-size="12" fill="#ef5350" textLength="30.3" lengthAdjust="spacingAndGlyphs">90.64</text>
<text x="340.6" y="45.9" font-size="12" fill="#ef5350" textLength="29.6" lengthAdjust="spacingAndGlyphs">91.79</text>
<text x="377.8" y="45.9" font-size="12" fill="#ef5350" textLength="28.9" lengthAdjust="spacingAndGlyphs">−9.37</text>
<text x="411.4" y="45.9" font-size="12" fill="#ef5350" textLength="44.7" lengthAdjust="spacingAndGlyphs">(−9.26%)</text>
<text x="18.3" y="62.7" font-size="12" fill="#131722" textLength="15.3" lengthAdjust="spacingAndGlyphs">MA</text>
<text x="38.3" y="62.7" font-size="12" fill="#131722" textLength="20.3" lengthAdjust="spacingAndGlyphs">(50,</text>
<text x="62.4" y="62.7" font-size="12" fill="#131722" textLength="30.1" lengthAdjust="spacingAndGlyphs">close,</text>
<text x="97.2" y="62.7" font-size="12" fill="#131722" textLength="10.8" lengthAdjust="spacingAndGlyphs">0)</text>
<text x="115.6" y="62.7" font-size="12" fill="#f44336" textLength="29.9" lengthAdjust="spacingAndGlyphs">64.52</text>
<text x="18.3" y="79.6" font-size="12" fill="#131722" textLength="22.1" lengthAdjust="spacingAndGlyphs">EMA</text>
<text x="44.6" y="79.6" font-size="12" fill="#131722" textLength="20.7" lengthAdjust="spacingAndGlyphs">(20,</text>
<text x="68.7" y="79.6" font-size="12" fill="#131722" textLength="30.5" lengthAdjust="spacingAndGlyphs">close,</text>
<text x="103.8" y="79.6" font-size="12" fill="#131722" textLength="10.6" lengthAdjust="spacingAndGlyphs">0)</text>
<text x="122.2" y="79.6" font-size="12" fill="#0c3299" textLength="29.5" lengthAdjust="spacingAndGlyphs">80.92</text>
<text x="18.5" y="580.9" font-size="12" fill="#131722" textLength="15.8" lengthAdjust="spacingAndGlyphs">RSI</text>
<text x="38.7" y="580.9" font-size="12" fill="#131722" textLength="16.8" lengthAdjust="spacingAndGlyphs">(14,</text>
<text x="63" y="580.9" font-size="12" fill="#131722" textLength="30.5" lengthAdjust="spacingAndGlyphs">close)</text>
<text x="103.5" y="580.9" font-size="12" fill="#7e57c2" textLength="29.9" lengthAdjust="spacingAndGlyphs">60.37</text>
<g transform="translate(9.8,776.9) scale(0.545)" fill="#131722"><path d="M14 22H7V11H0V4h14v18zM28 22h-8l7.5-18h8L28 22z"/><circle cx="20.3" cy="7.6" r="3.5"/></g>
<text x="33.5" y="788.9" font-size="13" fill="#131722" textLength="69.5" lengthAdjust="spacingAndGlyphs">TradingView</text></svg>
</body></html>
